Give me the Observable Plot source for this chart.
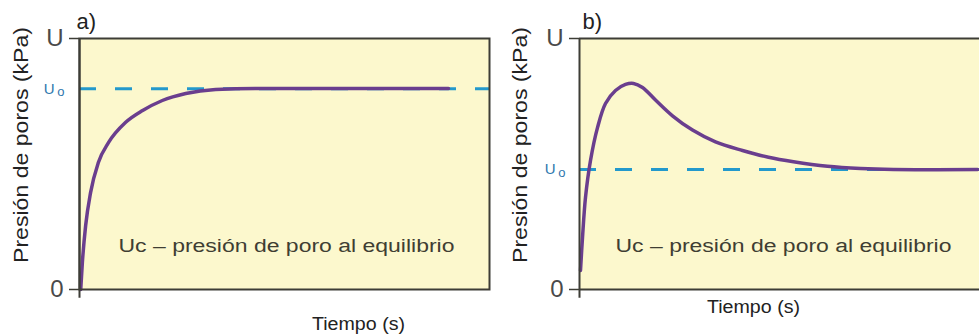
<!DOCTYPE html>
<html>
<head>
<meta charset="utf-8">
<script src="https://cdn.jsdelivr.net/npm/d3@7"></script>
<script src="https://cdn.jsdelivr.net/npm/@observablehq/plot@0.6"></script>
<style>
  html, body { margin: 0; padding: 0; background: #ffffff; }
  #wrap { position: relative; width: 979px; height: 334px; overflow: hidden; }
  #wrap svg { position: absolute; top: 0; }
</style>
</head>
<body>
<div id="wrap"></div>
<script>
// ---- data ----
const tLeft = [0.3, 0.7, 1.5, 2.7, 4.6, 7.1, 11.2, 15.4, 20.2, 25.9, 33.2, 42.9, 90];
const pLeft = [0, 0.108, 0.255, 0.386, 0.506, 0.586, 0.665, 0.713, 0.753, 0.781, 0.797, 0.801, 0.801];
const tRight = [0.25, 0.75, 1.5, 2.75, 4.5, 6.5, 9, 11.5, 13.5, 15.75, 19, 23.25, 28.25, 34, 40.75, 47.25, 53.5, 62, 70.25, 78.5, 99.5];
const pRight = [0.076, 0.207, 0.367, 0.514, 0.645, 0.741, 0.793, 0.817, 0.821, 0.805, 0.755, 0.692, 0.635, 0.588, 0.554, 0.527, 0.509, 0.491, 0.482, 0.478, 0.478];
const uoLeft = 0.80;
const uoRight = 0.478;
const yTickValues = [0, 1];
const yTickLabels = ["0", "U"];
const panelLabels = ["a)", "b)"];
const yTitle = "Presión de poros (kPa)";
const xTitle = "Tiempo (s)";
const note = "Uc – presión de poro al equilibrio";

const font = "'Liberation Sans', Arial, Helvetica, sans-serif";
const bg = "#fcf8cd";
const purple = "#6a3e8e";
const blue = "#2399cc";
const blueText = "#2f78ae";
const dark = "#3d3d36";

const leftData = tLeft.map((t, i) => ({t, p: pLeft[i]}));
const rightData = tRight.map((t, i) => ({t, p: pRight[i]}));

function panel({data, uo, label, width, marginLeft, marginRight, boxed, curve, tiempoDx, tiempoDy, yDx, uDx, oDx, noteDx, labelDx}) {
  return Plot.plot({
    width, height: 334,
    marginLeft, marginRight, marginTop: 38, marginBottom: 45,
    style: {fontFamily: font, background: "transparent", overflow: "visible"},
    x: {domain: [0, 100], axis: null},
    y: {domain: [0, 1], axis: null},
    marks: [
      Plot.frame({fill: bg, stroke: null}),
      Plot.ruleY([uo], {stroke: blue, strokeWidth: 3, strokeDasharray: "17,19"}),
      Plot.line(data, {x: "t", y: "p", stroke: purple, strokeWidth: 3.5, curve}),
      boxed
        ? Plot.frame({stroke: dark, strokeWidth: 2})
        : Plot.ruleY([0, 1], {stroke: dark, strokeWidth: 2}),
      Plot.ruleX([0], {y1: -0.035, y2: 1, stroke: dark, strokeWidth: 2}),
      Plot.axisY({ticks: yTickValues, tickFormat: d => yTickLabels[yTickValues.indexOf(d)], label: null,
        tickSize: 10, tickPadding: 6, fontSize: 24, stroke: dark, fill: "#4a4a4a", strokeWidth: 1.5}),
      Plot.text(["U"], {x: 0, y: uo, textAnchor: "end", dx: uDx, fontSize: 15, fill: blueText}),
      Plot.text(["o"], {x: 0, y: uo, textAnchor: "end", dx: oDx, dy: 3, fontSize: 13, fill: blueText}),
      Plot.text([yTitle], {frameAnchor: "left", textAnchor: "middle", lineAnchor: "middle", rotate: -90, dx: yDx, dy: -19, fontSize: 21, fill: "#222"}),
      Plot.text([label], {frameAnchor: "top-left", textAnchor: "start", lineAnchor: "middle", dx: labelDx, dy: -17, fontSize: 22, fill: "#222"}),
      Plot.text([xTitle], {frameAnchor: "bottom", lineAnchor: "middle", dx: tiempoDx, dy: tiempoDy, fontSize: 18, fill: "#222"}),
      Plot.text([note], {frameAnchor: "bottom", lineAnchor: "middle", dx: noteDx, dy: -43, fontSize: 18, fill: "#3f3e33"})
    ]
  });
}

const left = panel({data: leftData, uo: uoLeft, label: panelLabels[0], width: 490, marginLeft: 79, marginRight: 1,
  boxed: true, curve: "monotone-x", tiempoDx: 74, tiempoDy: 35, yDx: -58, uDx: -25, oDx: -15, noteDx: 2, labelDx: -3});
const right = panel({data: rightData, uo: uoRight, label: panelLabels[1], width: 489, marginLeft: 89, marginRight: 0,
  boxed: false, curve: "catmull-rom", tiempoDx: -26, tiempoDy: 18, yDx: -59, uDx: -24, oDx: -14, noteDx: 4, labelDx: 3});
left.style.left = "0px";
right.style.left = "490px";
const wrap = document.getElementById("wrap");
wrap.appendChild(left);
wrap.appendChild(right);

// widen glyphs to mimic the horizontally stretched source picture
const lengths = new Map([[note, 336], [xTitle, 93], [yTitle, 236]]);
for (const svg of [left, right]) {
  svg.querySelectorAll("text").forEach(el => {
    const txt = el.textContent;
    if (lengths.has(txt)) {
      el.setAttribute("textLength", lengths.get(txt));
      el.setAttribute("lengthAdjust", "spacingAndGlyphs");
    }
  });
}
</script>
</body>
</html>
